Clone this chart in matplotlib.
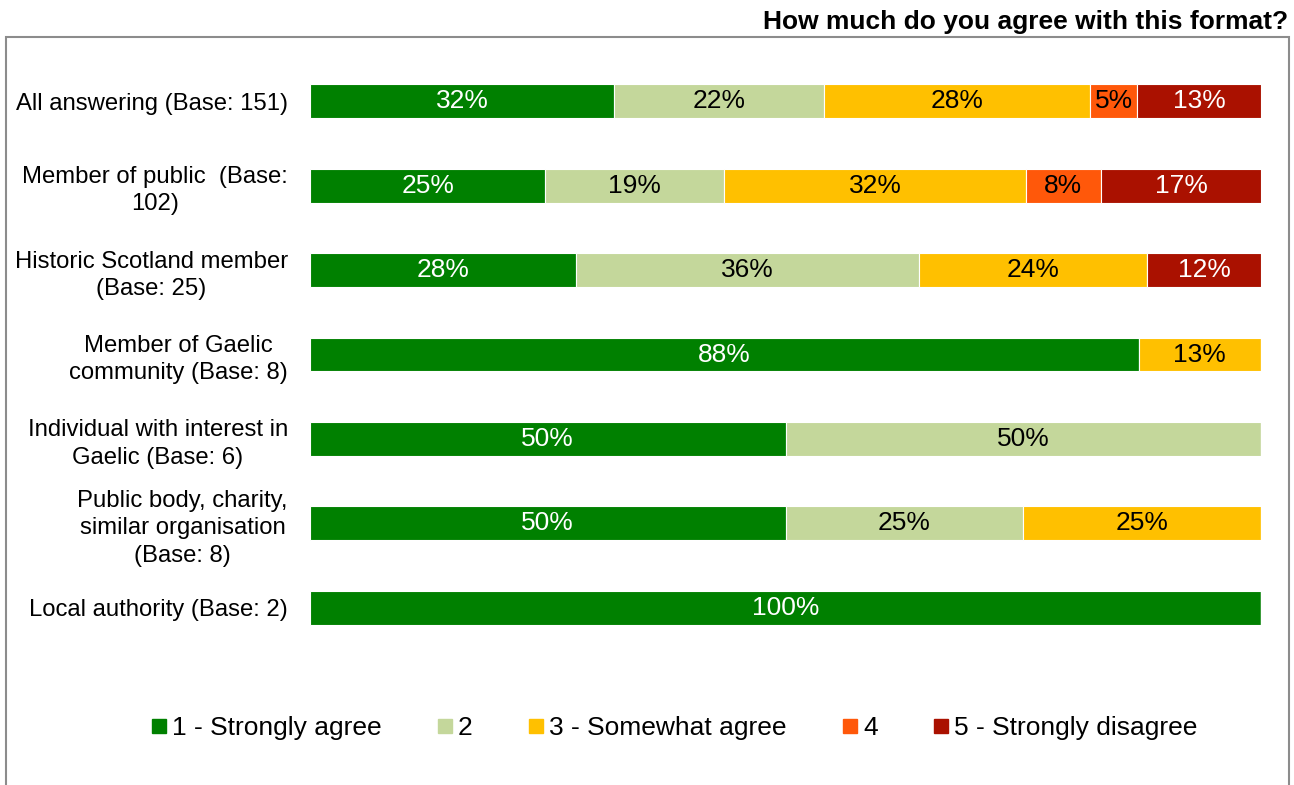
import matplotlib.pyplot as plt
import numpy as np
from matplotlib.patches import Rectangle
from matplotlib.lines import Line2D

plt.rcParams['font.family'] = ['Liberation Sans', 'DejaVu Sans']

# Respondent groups, top to bottom
groups = [
    "All answering (Base: 151)",
    "Member of public  (Base:\n102)",
    "Historic Scotland member\n(Base: 25)",
    "Member of Gaelic\ncommunity (Base: 8)",
    "Individual with interest in\nGaelic (Base: 6)",
    "Public body, charity,\nsimilar organisation\n(Base: 8)",
    "Local authority (Base: 2)",
]

answers = ["1 - Strongly agree", "2", "3 - Somewhat agree", "4", "5 - Strongly disagree"]

# Percentages per answer, one entry per group
strongly_agree = [32, 25, 28, 88, 50, 50, 100]
agree = [22, 19, 36, 0, 50, 25, 0]
somewhat_agree = [28, 32, 24, 13, 0, 25, 0]
disagree = [5, 8, 0, 0, 0, 0, 0]
strongly_disagree = [13, 17, 12, 0, 0, 0, 0]

colors = ["#008000", "#C4D79B", "#FFC000", "#FF580A", "#AA1100"]
text_colors = ["white", "black", "black", "black", "white"]

values = np.array([strongly_agree, agree, somewhat_agree, disagree, strongly_disagree], dtype=float)
# rounded shares can add up to 101, so scale each row to fill the bar
shares = values / values.sum(axis=0) * 100

fig = plt.figure(figsize=(12.94, 7.85), dpi=100)
ax = fig.add_axes([310 / 1294, 1 - 650 / 785, 951 / 1294, 591 / 785])

y = np.arange(len(groups))
left = np.zeros(len(groups))
for k in range(len(answers)):
    ax.barh(y, shares[k], left=left, height=0.4, color=colors[k],
            edgecolor="white", linewidth=0.8)
    for i in range(len(groups)):
        if values[k, i] > 0:
            ax.text(left[i] + shares[k, i] / 2, y[i], f"{values[k, i]:.0f}%",
                    ha="center", va="center", fontsize=19, color=text_colors[k])
    left += shares[k]

ax.set_xlim(0, 100)
ax.set_ylim(len(groups) - 0.5, -0.5)
ax.set_yticks(y)
ax.set_yticklabels(groups, fontsize=17.2, ha="right", multialignment="center",
                   linespacing=1.3)
ax.tick_params(axis="y", length=0, pad=16)
ax.set_xticks([])
for s in ax.spines.values():
    s.set_visible(False)

# frame around the plot area
fig.patches.append(Rectangle((6 / 1294, -0.05), 1283 / 1294, 1 - 37 / 785 + 0.05,
                             transform=fig.transFigure, fill=False,
                             edgecolor="#8C8C8C", linewidth=1.5))

fig.text(1288 / 1294, 1 - 22 / 785, "How much do you agree with this format?",
         ha="right", va="center", fontsize=19, fontweight="bold")

handles = [Line2D([], [], marker="s", linestyle="none", markersize=10,
                  markerfacecolor=c, markeredgecolor=c) for c in colors]
fig.legend(handles, answers, loc="center", bbox_to_anchor=(673 / 1294, 1 - 728 / 785),
           ncol=5, frameon=False, fontsize=19, handletextpad=0.1,
           columnspacing=2.0, handlelength=0.8)

fig.savefig("out.png", dpi=100)
